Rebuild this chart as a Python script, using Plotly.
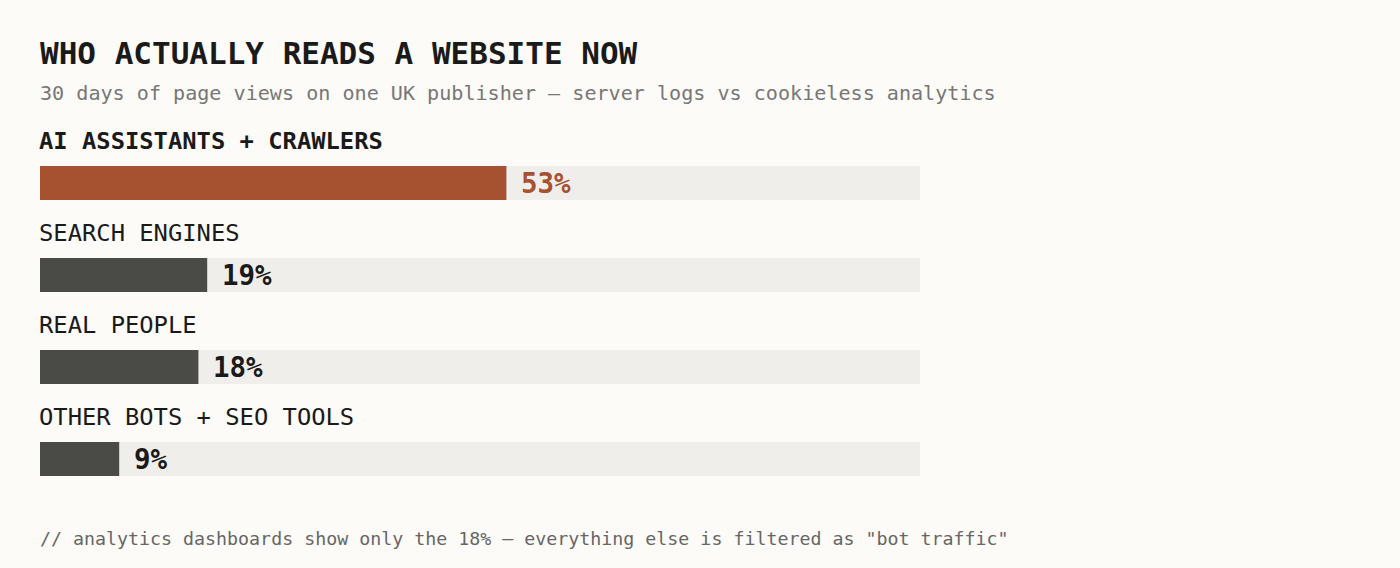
import plotly.graph_objects as go

# data
categories = ["AI ASSISTANTS + CRAWLERS", "SEARCH ENGINES", "REAL PEOPLE", "OTHER BOTS + SEO TOOLS"]
shares = [53, 19, 18, 9]
highlight = [True, False, False, False]

title = "WHO ACTUALLY READS A WEBSITE NOW"
subtitle = "30 days of page views on one UK publisher \u2014 server logs vs cookieless analytics"
footnote = "// analytics dashboards show only the 18% \u2014 everything else is filtered as \"bot traffic\""

W, H = 1400, 568
FONT = "DejaVu Sans Mono"
BG = "#fcfbf7"
ACCENT = "#a65130"
DARK = "#4a4a47"
TRACK = "#f0eeea"

# layout geometry (pixels)
left_px, right_px = 40, 920
row0_px, row_step = 183, 92

y_top = -row0_px / row_step
y_bot = (H - row0_px) / row_step

fig = go.Figure()

rows = list(range(len(categories)))

fig.add_trace(go.Bar(
    x=[100] * len(categories), y=rows, orientation="h",
    marker=dict(color=TRACK, line_width=0), width=34 / row_step,
    hoverinfo="skip", showlegend=False,
))
fig.add_trace(go.Bar(
    x=shares, y=rows, orientation="h",
    marker=dict(color=[ACCENT if h else DARK for h in highlight], line_width=0,
                cornerradius=3),
    width=34 / row_step, hoverinfo="skip", showlegend=False,
))

for i, (cat, v, h) in enumerate(zip(categories, shares, highlight)):
    fig.add_annotation(
        x=0, y=i, xref="x", yref="y", text=cat, showarrow=False,
        xanchor="left", yanchor="middle", xshift=-3, yshift=42,
        font=dict(family=FONT, size=23.8, color="#1a1a1a",
                  weight="bold" if h else "normal"),
    )
    fig.add_annotation(
        x=v, y=i, xref="x", yref="y", text=f"{v}%", showarrow=False,
        xanchor="left", yanchor="middle", xshift=13, yshift=0,
        font=dict(family=FONT, size=27.5, color=ACCENT if h else "#1a1a1a", weight="bold"),
    )

fig.add_annotation(
    x=left_px / W - 2 / W, y=1 - 53 / H, xref="paper", yref="paper", text=title,
    showarrow=False, xanchor="left", yanchor="middle",
    font=dict(family=FONT, size=31, color="#1a1a1a", weight="bold"),
)
fig.add_annotation(
    x=left_px / W - 2 / W, y=1 - 93 / H, xref="paper", yref="paper", text=subtitle,
    showarrow=False, xanchor="left", yanchor="middle",
    font=dict(family=FONT, size=20.1, color="#777777"),
)
fig.add_annotation(
    x=left_px / W - 2 / W, y=1 - 538 / H, xref="paper", yref="paper", text=footnote,
    showarrow=False, xanchor="left", yanchor="middle",
    font=dict(family=FONT, size=18.3, color="#666666"),
)

fig.update_layout(
    width=W, height=H,
    margin=dict(l=0, r=0, t=0, b=0),
    paper_bgcolor=BG, plot_bgcolor=BG,
    barmode="overlay",
    xaxis=dict(range=[0, 100], domain=[left_px / W, right_px / W], visible=False,
               fixedrange=True),
    yaxis=dict(range=[y_bot, y_top], visible=False, fixedrange=True),
)

# drop the default page margin so the figure fills the window
fig.write_html("out.html", config={"displayModeBar": False},
               post_script="document.body.style.margin='0';"
                           "document.body.style.background='" + BG + "';")
